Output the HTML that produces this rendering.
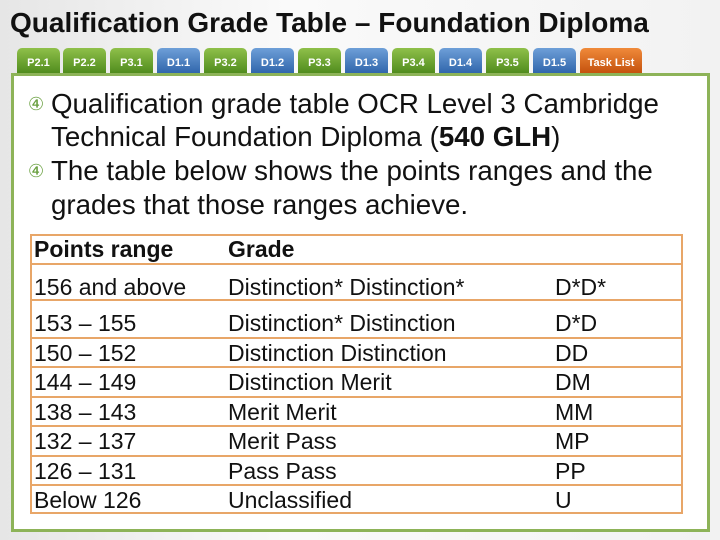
<!DOCTYPE html>
<html><head><meta charset="utf-8"><style>
body{margin:0;width:720px;height:540px;overflow:hidden;background:linear-gradient(90deg,#e6e6e6,#fafafa 40%,#f2f2f2);font-family:"Liberation Sans",sans-serif;position:relative}
.title{position:absolute;left:10px;top:7px;font-size:28px;font-weight:bold;color:#111;white-space:nowrap}
.tab{position:absolute;top:48px;height:26px;width:43px;border-radius:5px 5px 0 0;color:#fff;font-size:11px;font-weight:bold;text-align:center;line-height:30px}
.g{background:linear-gradient(#8fc04a,#4e8a1c)}
.b{background:linear-gradient(#6e9fd8,#2e64aa)}
.o{background:linear-gradient(#f08a3a,#c3500c)}
.box{position:absolute;left:11px;top:73px;width:693px;height:453px;border:3px solid #8db358;background:#fff}
.ln{position:absolute;left:51px;font-size:27.7px;color:#111;white-space:nowrap}
.bul{position:absolute;left:28px;color:#6aa040;font-size:18px}
.tbl{position:absolute;left:30px;top:234px;width:653px;height:280px;border:2px solid #e8a668;box-sizing:border-box}
.row{position:absolute;left:0;width:100%;border-top:2px solid #e8a668;font-size:23px;color:#111}
.row span{position:absolute;white-space:nowrap;transform:scaleX(1.0);transform-origin:left}
</style></head><body>
<div class="title">Qualification Grade Table – Foundation Diploma</div>
<div class="tab g" style="left:17px">P2.1</div>
<div class="tab g" style="left:63px">P2.2</div>
<div class="tab g" style="left:110px">P3.1</div>
<div class="tab b" style="left:157px">D1.1</div>
<div class="tab g" style="left:204px">P3.2</div>
<div class="tab b" style="left:251px">D1.2</div>
<div class="tab g" style="left:298px">P3.3</div>
<div class="tab b" style="left:345px">D1.3</div>
<div class="tab g" style="left:392px">P3.4</div>
<div class="tab b" style="left:439px">D1.4</div>
<div class="tab g" style="left:486px">P3.5</div>
<div class="tab b" style="left:533px">D1.5</div>
<div class="tab o" style="left:580px;width:62px">Task List</div>
<div class="box"></div>
<div class="bul" style="top:94px">④</div>
<div class="ln" style="top:88px">Qualification grade table OCR Level 3 Cambridge</div>
<div class="ln" style="top:121px">Technical Foundation Diploma (<b>540 GLH</b>)</div>
<div class="bul" style="top:161px">④</div>
<div class="ln" style="top:155px">The table below shows the points ranges and the</div>
<div class="ln" style="top:189px">grades that those ranges achieve.</div>
<div class="tbl">
<div class="row" style="top:-2px;height:29px;border-top:none;font-weight:bold"><span style="left:2px;top:2px">Points range</span><span style="left:196px;top:2px">Grade</span></div>
<div class="row" style="top:27px;height:35px"><span style="left:2px;top:9px">156 and above</span><span style="left:196px;top:9px">Distinction* Distinction*</span><span style="left:523px;top:9px">D*D*</span></div>
<div class="row" style="top:63px"><span style="left:2px;top:9px">153 – 155</span><span style="left:196px;top:9px">Distinction* Distinction</span><span style="left:523px;top:9px">D*D</span></div>
<div class="row" style="top:101px"><span style="left:2px;top:1px">150 – 152</span><span style="left:196px;top:1px">Distinction Distinction</span><span style="left:523px;top:1px">DD</span></div>
<div class="row" style="top:130px"><span style="left:2px;top:1px">144 – 149</span><span style="left:196px;top:1px">Distinction Merit</span><span style="left:523px;top:1px">DM</span></div>
<div class="row" style="top:160px"><span style="left:2px;top:1px">138 – 143</span><span style="left:196px;top:1px">Merit Merit</span><span style="left:523px;top:1px">MM</span></div>
<div class="row" style="top:189px"><span style="left:2px;top:1px">132 – 137</span><span style="left:196px;top:1px">Merit Pass</span><span style="left:523px;top:1px">MP</span></div>
<div class="row" style="top:219px"><span style="left:2px;top:1px">126 – 131</span><span style="left:196px;top:1px">Pass Pass</span><span style="left:523px;top:1px">PP</span></div>
<div class="row" style="top:248px"><span style="left:2px;top:1px">Below 126</span><span style="left:196px;top:1px">Unclassified</span><span style="left:523px;top:1px">U</span></div>
</div>
</body></html>
